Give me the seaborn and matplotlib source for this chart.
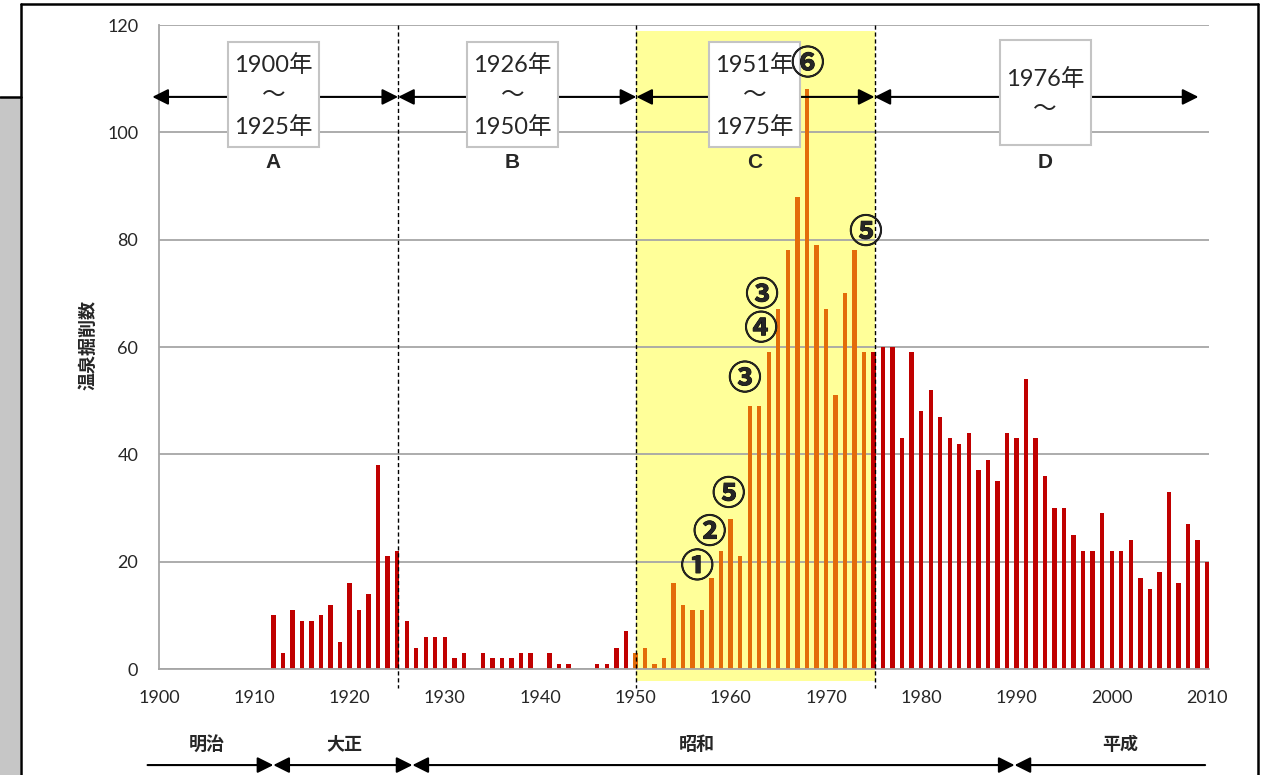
# 温泉掘削数の推移 (1900-2010)
import numpy as np
import pandas as pd
import matplotlib
matplotlib.use('Agg')
import matplotlib.pyplot as plt
import matplotlib.patheffects as pe
from matplotlib.patches import Rectangle
from matplotlib.lines import Line2D
import seaborn as sns

# data
years = list(range(1912, 2011))
counts = [10, 3, 11, 9, 9, 10, 12, 5, 16, 11, 14, 38, 21, 22,              # 1912-1925
          9, 4, 6, 6, 6, 2, 3, 0, 3, 2, 2, 2, 3, 3, 0, 3, 1, 1, 0, 0,       # 1926-1945
          1, 1, 4, 7,                                                       # 1946-1949
          3, 4, 1, 2, 16, 12, 11, 11, 17, 22, 28, 21, 49, 49, 59, 67,       # 1950-1965
          78, 88, 108, 79, 67, 51, 70, 78, 59,                              # 1966-1974
          59, 60, 60, 43, 59, 48, 52, 47, 43, 42, 44, 37, 39, 35, 44, 43,   # 1975-1990
          54, 43, 36, 30, 30, 25, 22, 22, 29, 22, 22, 24, 17, 15, 18, 33,   # 1991-2006
          16, 27, 24, 20]                                                   # 2007-2010
boom_first, boom_last = 1950, 1974   # orange bars

period_names = ['A', 'B', 'C', 'D']
period_texts = ['1900年\n～\n1925年', '1926年\n～\n1950年', '1951年\n～\n1975年', '1976年\n～']
period_edges = [1899.3, 1925.1, 1950.1, 1975.1, 2009.1]
period_box_x = [1912.0, 1937.1, 1962.5, 1993.0]

era_names = ['明治', '大正', '昭和', '平成']
era_edges = [1898.8, 1912.0, 1926.6, 1989.8, 2009.8]
era_label_x = [1905.0, 1919.5, 1956.5, 2000.9]

marks = ['①', '②', '⑤', '③', '④', '③', '⑥', '⑤']
mark_x = [1956.5, 1957.8, 1959.8, 1961.5, 1963.2, 1963.3, 1968.1, 1974.2]
mark_y = [18.9, 25.3, 32.4, 53.9, 63.2, 69.5, 112.6, 81.2]

df = pd.DataFrame({'year': years, 'count': counts})
df['group'] = np.where((df.year >= boom_first) & (df.year <= boom_last), 'boom', 'other')

sns.set_style('white')
plt.rcParams['font.family'] = ['Lato', 'Noto Sans CJK JP', 'DejaVu Sans']
jp = ['Noto Sans CJK JP', 'DejaVu Sans']

GRAY = '#A6A6A6'
RED = '#C00000'
ORANGE = '#E36C09'

fig = plt.figure(figsize=(12.71, 7.75), dpi=100)
ax = fig.add_axes([159 / 1271, 1 - 669 / 775, 1050.4 / 1271, 644 / 775])

sns.barplot(data=df, x='year', y='count', hue='group', native_scale=True, dodge=False,
            width=0.46, palette={'boom': ORANGE, 'other': RED}, saturation=1,
            errorbar=None, legend=False, ax=ax, zorder=2, linewidth=0)

ax.set_xlim(1900, 2010.25)
ax.set_ylim(0, 120)
ax.set_xticks(range(1900, 2011, 10))
ax.set_yticks(range(0, 121, 20))
ax.set_xlabel('')
ax.set_ylabel('')
ax.set_axisbelow(True)
ax.grid(axis='y', color=GRAY, lw=1.3)
ax.grid(axis='x', visible=False)
for s in ['top', 'right']:
    ax.spines[s].set_visible(False)
for s in ['left', 'bottom']:
    ax.spines[s].set_color(GRAY)
    ax.spines[s].set_linewidth(1.3)
ax.tick_params(axis='y', length=7, width=1.3, color=GRAY, pad=8, labelsize=13)
ax.tick_params(axis='x', length=5, width=1.3, color=GRAY, pad=10, labelsize=13)

# yellow band for the boom period
ax.add_patch(Rectangle((1950.1, -2.3), 25.0, 121.2, fc='#FFFF99', ec='none',
                       zorder=0.2, clip_on=False))

# dashed period borders
for x in period_edges[1:4]:
    ax.plot([x, x], [120, -3.5], color='black', lw=1.0, ls=(0, (3, 2)),
            clip_on=False, zorder=3)

# period arrows, boxes and letters
arrow_y = 106.6
for i in range(4):
    ax.annotate('', xy=(period_edges[i + 1], arrow_y), xytext=(period_edges[i], arrow_y),
                xycoords='data', annotation_clip=False,
                arrowprops=dict(arrowstyle='<|-|>', color='black',
                                lw=1.5, mutation_scale=24, shrinkA=0, shrinkB=0),
                zorder=4)
    cx = period_box_x[i]
    y0, h = (97.3, 19.5) if i < 3 else (97.6, 19.6)
    ax.add_patch(Rectangle((cx - 4.78, y0), 9.56, h, fc='white', ec='#C4C4C4',
                           lw=1.5, zorder=5))
    ax.text(cx, y0 + h / 2 - 0.3, period_texts[i], ha='center', va='center',
            fontsize=17, linespacing=1.55, zorder=6)
    ax.text(cx, 94.3, period_names[i], ha='center', va='center', fontsize=15,
            fontweight='bold', family=['Liberation Sans', 'DejaVu Sans'], zorder=6)

# circled markers
for m, x, y in zip(marks, mark_x, mark_y):
    ax.text(x, y, m, ha='center', va='center', fontsize=24, fontweight='bold',
            family=jp, zorder=6,
            path_effects=[pe.withStroke(linewidth=0.6, foreground='black')])

# era line under the axis
era_y = -17.9
for i in range(4):
    style = '-|>' if i == 0 else ('<|-' if i == 3 else '<|-|>')
    ax.annotate('', xy=(era_edges[i + 1], era_y), xytext=(era_edges[i], era_y),
                xycoords='data', annotation_clip=False,
                arrowprops=dict(arrowstyle=style, color='black', lw=1.5,
                                mutation_scale=24, shrinkA=0, shrinkB=0))
    ax.text(era_label_x[i], -14.0, era_names[i], ha='center', va='center',
            fontsize=13, fontweight='bold', family=jp, clip_on=False)

fig.text(88 / 1271, 1 - 345 / 775, '温泉掘削数', rotation=90, ha='center', va='center',
         fontsize=13, fontweight='bold', family=jp)

# frame of the scanned page
fig.add_artist(Rectangle((0, 0), 20 / 1271, 1 - 98 / 775, transform=fig.transFigure,
                         fc='#C6C6C6', ec='none'))
for xs, ys in [([21 / 1271, 1258 / 1271], [1 - 4 / 775, 1 - 4 / 775]),
               ([21 / 1271, 21 / 1271], [0, 1 - 4 / 775]),
               ([1258 / 1271, 1258 / 1271], [0, 1 - 4 / 775]),
               ([0, 21 / 1271], [1 - 97 / 775, 1 - 97 / 775])]:
    fig.add_artist(Line2D(xs, ys, transform=fig.transFigure, color='black', lw=1.8))

fig.savefig('out.png', dpi=100)
